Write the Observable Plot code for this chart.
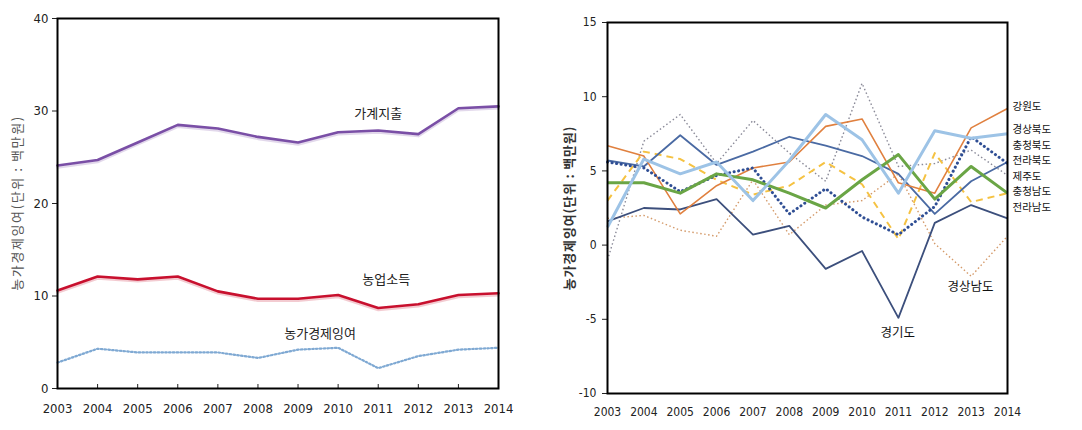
<!DOCTYPE html>
<html><head><meta charset="utf-8">
<script src="https://cdn.jsdelivr.net/npm/d3@7"></script>
<script src="https://cdn.jsdelivr.net/npm/@observablehq/plot@0.6"></script>
<style>
html,body{margin:0;padding:0;background:#fff;}
#wrap{position:relative;width:1082px;height:430px;overflow:hidden;}
#left{position:absolute;left:0;top:0;}
#right{position:absolute;left:545px;top:0;}
svg{font-family:"DejaVu Sans Condensed","Liberation Sans",sans-serif;}
</style></head>
<body><div id="wrap"><div id="left"></div><div id="right"></div></div>
<script>
const years = [2003,2004,2005,2006,2007,2008,2009,2010,2011,2012,2013,2014];

// Left panel
const householdSpending = [24.1,24.7,26.6,28.5,28.1,27.2,26.6,27.7,27.9,27.5,30.3,30.5];
const farmIncome        = [10.6,12.1,11.8,12.1,10.5,9.7,9.7,10.1,8.7,9.1,10.1,10.3];
const farmSurplus       = [2.8,4.3,3.9,3.9,3.9,3.3,4.2,4.4,2.2,3.5,4.2,4.4];
const leftNames = ["가계지출","농업소득","농가경제잉여"];
const leftLabelX = [2011.0, 2011.2, 2009.55];
const leftLabelY = [29.7, 11.8, 5.9];
const leftTicksY = [0,10,20,30,40];

// Right panel (provinces)
const provinces = ["강원도","경상북도","충청북도","전라북도","제주도","충청남도","전라남도","경기도","경상남도"];
const gangwon   = [6.7,6.0,2.1,4.0,5.2,5.6,8.0,8.5,4.2,3.5,7.9,9.2];
const gyeongbuk = [1.2,5.8,4.8,5.6,3.0,5.7,8.8,7.1,3.5,7.7,7.2,7.5];
const chungbuk  = [5.6,5.2,3.6,4.7,5.2,2.1,3.8,1.9,0.7,2.6,7.3,5.5];
const jeonbuk   = [5.7,5.3,7.4,5.4,6.3,7.3,6.7,6.0,4.8,2.1,4.3,5.6];
const jeju      = [-1.0,7.0,8.8,5.5,8.4,6.2,4.3,10.9,5.3,5.5,6.4,4.7];
const chungnam  = [4.2,4.2,3.5,4.8,4.4,3.5,2.5,4.4,6.1,3.1,5.3,3.5];
const jeonnam   = [3.0,6.3,5.8,4.4,3.4,4.0,5.6,4.1,0.4,6.2,2.9,3.5];
const gyeonggi  = [1.6,2.5,2.4,3.1,0.7,1.3,-1.6,-0.4,-4.9,1.5,2.7,1.8];
const gyeongnam = [1.8,2.0,1.0,0.6,4.4,0.7,2.7,3.0,4.8,0.1,-2.1,0.6];
const rightLabelX = [2014,2014,2014,2014,2014,2014,2014,2010.98,2012.98];
const rightLabelY = [9.3,7.75,6.73,5.69,4.64,3.6,2.55,-5.9,-2.8];
const rightTicksY = [-10,-5,0,5,10,15];

const yTitle = "농가경제잉여(단위 : 백만원)";
const kfont = "'Noto Sans CJK KR', sans-serif";

// Left table
const leftSeries = [householdSpending, farmIncome, farmSurplus];
const leftData = leftSeries.flatMap((vals,i)=>vals.map((v,j)=>({name:leftNames[i],year:years[j],value:v})));
const leftStyles = {
  "가계지출":{stroke:"#7a4fa6",w:2.6,dash:null},
  "농업소득":{stroke:"#c8102e",w:2.6,dash:null},
  "농가경제잉여":{stroke:"#7fa9d3",w:2.2,dash:"1.6,2.2"}
};
const leftLabels = leftNames.map((n,i)=>({name:n,x:leftLabelX[i],y:leftLabelY[i]}));

const leftMarks = [];
for (const n of leftNames) {
  const s = leftStyles[n];
  const d = leftData.filter(r=>r.name===n);
  if (!s.dash) leftMarks.push(Plot.line(d,{x:"year",y:"value",stroke:s.stroke,strokeWidth:2.5,strokeOpacity:0.22,dy:2}));
  leftMarks.push(Plot.line(d,{x:"year",y:"value",stroke:s.stroke,strokeWidth:s.w,strokeDasharray:s.dash}));
}

const left = Plot.plot({
  width:545, height:430,
  marginLeft:57, marginRight:47, marginTop:18, marginBottom:42,
  x:{domain:[2003,2014]},
  y:{domain:[0,40]},
  style:{fontSize:"13px",color:"#222"},
  marks:[
    Plot.axisY({ticks:leftTicksY,tickSize:5,tickPadding:4,label:null,fontSize:13,tickFormat:d=>d}),
    Plot.axisX({ticks:years,tickSize:-4,tickPadding:19,label:null,fontSize:13,tickFormat:d=>String(d)}),
    ...leftMarks,
    Plot.text(leftLabels,{x:"x",y:"y",text:"name",fontSize:13,fontFamily:kfont,fill:"#222"}),
    Plot.frame({stroke:"black",strokeWidth:2})
  ]
});
document.getElementById("left").appendChild(left);
{
  const svg = d3.select(left);
  svg.append("text").attr("transform","translate(18,203) rotate(-90)")
    .attr("text-anchor","middle").attr("dominant-baseline","middle")
    .style("font-family",kfont).style("font-size","13px").style("letter-spacing","1.6px")
    .attr("fill","#555").text(yTitle);
}

// Right table
const rightSeries = [gangwon,gyeongbuk,chungbuk,jeonbuk,jeju,chungnam,jeonnam,gyeonggi,gyeongnam];
const rightData = rightSeries.flatMap((vals,i)=>vals.map((v,j)=>({name:provinces[i],year:years[j],value:v})));
const rightStyles = {
  "강원도":{stroke:"#e0803f",w:1.6,dash:null},
  "경상북도":{stroke:"#9dc3e6",w:3,dash:null},
  "충청북도":{stroke:"#2f4e94",w:3,dash:"0.1,4.5",cap:"round"},
  "전라북도":{stroke:"#4a6aa3",w:1.8,dash:null},
  "제주도":{stroke:"#8a8a98",w:1.4,dash:"1.5,2.5"},
  "충청남도":{stroke:"#6aa545",w:3,dash:null},
  "전라남도":{stroke:"#f5c242",w:2,dash:"7,5"},
  "경기도":{stroke:"#3c4f7c",w:1.8,dash:null},
  "경상남도":{stroke:"#d49a6a",w:1.4,dash:"1.5,2.5"}
};
const drawOrder = ["경상남도","제주도","전라남도","경기도","전라북도","강원도","충청북도","충청남도","경상북도"];
const rightLabels = provinces.map((n,i)=>({name:n,x:rightLabelX[i],y:rightLabelY[i],side:i<7}));

const rightMarks = drawOrder.map(n=>{
  const s = rightStyles[n];
  return Plot.line(rightData.filter(r=>r.name===n),{x:"year",y:"value",stroke:s.stroke,strokeWidth:s.w,strokeDasharray:s.dash,strokeLinecap:s.cap||"butt"});
});

const right = Plot.plot({
  width:537, height:430,
  marginLeft:62, marginRight:75, marginTop:22, marginBottom:37,
  x:{domain:[2003,2014]},
  y:{domain:[-10,15]},
  style:{fontSize:"12px",color:"#222"},
  marks:[
    Plot.axisY({ticks:rightTicksY,tickSize:5,tickPadding:6,label:null,fontSize:12,tickFormat:d=>d}),
    Plot.axisX({ticks:years,tickSize:0,tickPadding:14,label:null,fontSize:12,tickFormat:d=>String(d)}),
    ...rightMarks,
    Plot.text(rightLabels.filter(d=>d.side),{x:"x",y:"y",text:"name",dx:5,textAnchor:"start",fontSize:10.5,fontFamily:kfont,fill:"#111"}),
    Plot.text(rightLabels.filter(d=>!d.side),{x:"x",y:"y",text:"name",fontSize:12.5,fontFamily:kfont,fill:"#111"}),
    Plot.frame({stroke:"black",strokeWidth:2})
  ]
});
document.getElementById("right").appendChild(right);
{
  const svg = d3.select(right);
  svg.append("text").attr("transform","translate(25,208) rotate(-90)")
    .attr("text-anchor","middle").attr("dominant-baseline","middle")
    .style("font-family",kfont).style("font-size","13px").style("letter-spacing","0.8px")
    .style("font-weight","bold").attr("fill","#333").text(yTitle);
}
</script></body></html>
